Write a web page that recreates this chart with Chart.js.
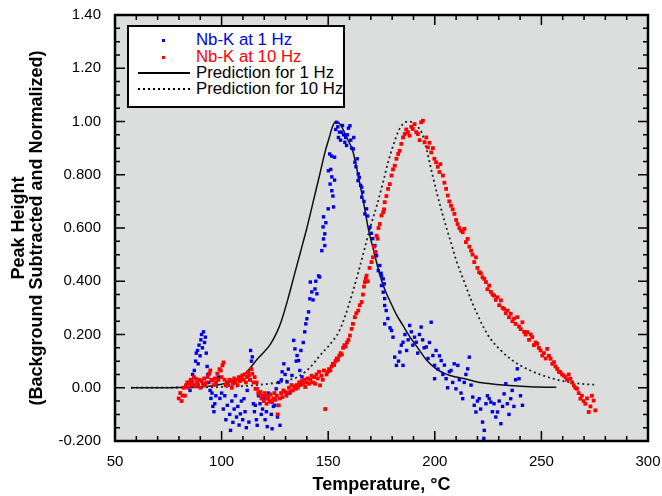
<!DOCTYPE html>
<html>
<head>
<meta charset="utf-8">
<title>Nb-K peak height vs temperature</title>
<script src="https://cdn.jsdelivr.net/npm/chart.js@4.4.0/dist/chart.umd.min.js"></script>
<style>
  body { margin: 0; background: #fff; }
  #wrap { position: relative; width: 662px; height: 496px; }
  #legendBox {
    position: absolute; left: 127px; top: 25px; width: 218px; height: 83px;
    box-sizing: border-box; border: 2px solid #000; background: #fff;
    font: 16.8px "Liberation Sans", Arial, sans-serif;
  }
  .row { position: absolute; left: 0; width: 100%; height: 18px; }
  .row span { position: absolute; left: 67px; top: 0; line-height: 18px; white-space: nowrap; }
  .dot { position: absolute; left: 33px; top: 8px; width: 3px; height: 3px; }
  .solid { position: absolute; left: 9px; top: 8px; width: 52px; height: 1.5px; background: #000; }
  .dotted { position: absolute; left: 9px; top: 8px; width: 52px; height: 1.5px;
    background: repeating-linear-gradient(to right, #000 0 2px, transparent 2px 5px); }
</style>
</head>
<body>
<div id="wrap">
  <canvas id="peakChart" width="662" height="496"></canvas>
  <div id="legendBox">
    <div class="row" style="top:4px"><div class="dot" style="background:#0000e8"></div><span style="color:#0000e8">Nb-K at 1 Hz</span></div>
    <div class="row" style="top:21px"><div class="dot" style="background:#ff0000"></div><span style="color:#ff0000">Nb-K at 10 Hz</span></div>
    <div class="row" style="top:37px"><div class="solid"></div><span>Prediction for 1 Hz</span></div>
    <div class="row" style="top:53px"><div class="dotted"></div><span>Prediction for 10 Hz</span></div>
  </div>
</div>
<script>
// axis ticks
const xTicks = [50, 100, 150, 200, 250, 300];
const yTickValues = [-0.2, 0, 0.2, 0.4, 0.6, 0.8, 1.0, 1.2, 1.4];
const yTickLabels = ['-0.200', '0.00', '0.200', '0.400', '0.600', '0.800', '1.00', '1.20', '1.40'];

// measured peak height, 1 Hz  [temperature °C, height]
const nbk1Hz = [
  [84.5,0.02],[85.2,-0.01],[85.8,0.03],[86.4,0.05],[86.9,0.01],[87.2,0.065],[87.8,0.10],[88.1,0.13],
  [88.7,0.14],[89.0,0.09],[89.4,0.16],[89.9,0.12],[90.3,0.18],[90.6,0.20],[91.0,0.15],[91.5,0.21],
  [92.0,0.17],[92.4,0.19],[92.8,0.13],[93.2,0.08],[93.6,0.05],[94.0,0.02],[94.6,-0.01],[95.0,-0.04],
  [95.5,-0.02],[95.9,-0.07],[96.4,-0.09],[96.8,-0.06],[97.3,-0.03],[98.5,0.04],[99.2,-0.04],[100.0,-0.02],
  [100.8,-0.08],[101.5,-0.03],[102.0,-0.12],[102.7,-0.066],[103.3,0.01],[103.8,-0.10],[104.2,-0.16],[104.8,-0.05],
  [105.3,-0.13],[105.9,-0.08],[106.5,-0.03],[107.0,-0.11],[107.6,-0.07],[108.2,-0.14],[108.8,-0.098],[109.3,-0.05],
  [109.9,-0.12],[110.5,-0.041],[111.0,-0.09],[111.6,-0.15],[112.0,-0.01],[112.8,-0.129],[113.2,0.03],[113.6,0.14],
  [114.0,0.10],[114.4,0.116],[114.9,-0.06],[115.4,-0.09],[115.8,-0.066],[116.3,-0.12],[116.7,-0.141],[117.3,-0.03],
  [118.0,-0.06],[118.6,-0.10],[119.2,-0.08],[119.8,-0.04],[120.4,-0.12],[121.0,-0.09],[121.4,-0.146],[122.0,-0.02],
  [122.8,-0.053],[123.3,-0.10],[123.7,-0.154],[124.3,-0.07],[125.0,-0.066],[125.6,-0.004],[126.2,-0.11],[126.8,0.02],
  [127.4,-0.141],[128.0,0.03],[128.4,0.06],[129.2,0.09],[129.8,0.05],[130.7,0.022],[131.3,0.07],[132.0,-0.02],
  [133.0,0.046],[133.8,0.178],[134.4,0.146],[135.0,0.10],[135.4,0.121],[136.1,0.102],[136.7,0.065],[137.2,0.14],
  [137.7,0.041],[138.3,0.17],[139.0,0.21],[139.5,0.24],[140.0,0.259],[140.8,0.285],[141.4,0.334],[141.6,0.397],
  [142.3,0.36],[142.9,0.33],[143.8,0.371],[144.2,0.40],[144.7,0.353],[145.5,0.42],[146.0,0.416],
  [147.0,0.515],[147.8,0.559],[148.4,0.578],[147.6,0.604],[148.9,0.62],[147.8,0.642],[148.4,0.534],[150.0,0.672],
  [152.5,0.679],[151.7,0.74],[152.2,0.72],[150.9,0.765],[151.7,0.792],[153.0,0.78],[150.1,0.815],[151.2,0.82],
  [150.7,0.878],[151.6,0.87],[153.0,0.866],
  [153.5,0.97],[154.0,0.997],[154.5,0.98],[154.8,0.94],[155.3,0.96],[155.8,0.93],[156.3,0.96],[156.7,0.985],
  [157.2,0.95],[157.8,0.922],[158.2,0.94],[158.6,0.91],[159.0,0.95],[159.5,0.975],[160.2,0.984],[160.6,0.93],
  [161.0,0.90],[161.8,0.897],[162.0,0.94],
  [162.5,0.847],[163.0,0.83],[163.6,0.86],[164.1,0.803],[164.0,0.778],[164.6,0.79],[165.2,0.76],[165.7,0.753],
  [166.2,0.735],[165.7,0.716],[166.8,0.70],[168.0,0.672],[167.2,0.653],[168.5,0.645],[169.6,0.603],[170.2,0.58],
  [170.9,0.56],[171.9,0.534],[172.3,0.51],[172.7,0.496],[174.2,0.459],[173.5,0.44],[174.8,0.43],[175.0,0.421],
  [175.8,0.409],[176.3,0.39],[175.0,0.384],[175.8,0.359],[176.5,0.335],[176.5,0.309],[177.2,0.29],[176.5,0.24],
  [178.0,0.26],[179.0,0.225],[179.7,0.215],[180.4,0.19],[181.2,0.115],[182.0,0.084],[183.0,0.10],[183.6,0.134],
  [184.3,0.16],[185.1,0.084],[185.1,0.171],[186.0,0.20],[186.8,0.14],[187.5,0.18],[188.2,0.234],[189.0,0.21],
  [189.7,0.16],[190.5,0.19],[191.3,0.171],[192.0,0.13],[192.8,0.20],[193.6,0.228],[194.3,0.18],[195.0,0.15],
  [196.0,0.153],[196.8,0.11],[197.5,0.17],[198.3,0.246],[199.1,0.121],[199.9,0.084],[199.9,0.034],[200.6,0.14],
  [201.5,0.07],[202.2,0.12],[203.0,0.102],[203.8,0.05],[204.5,0.085],[205.3,0.034],[206.0,0.00],[206.8,0.06],
  [207.6,0.065],[208.4,0.02],[209.1,0.09],[209.9,-0.004],[210.8,0.084],[211.5,0.03],[212.3,-0.02],[213.1,-0.041],
  [213.8,0.02],[214.6,0.05],[215.4,0.071],[216.2,0.115],[217.0,0.01],[217.8,-0.035],[218.5,-0.066],[219.3,-0.091],
  [220.0,-0.05],[220.8,-0.041],[221.5,-0.08],[222.4,-0.129],[223.2,-0.16],[223.0,-0.19],[224.0,-0.06],[224.7,-0.03],
  [225.5,-0.041],[226.3,-0.054],[227.0,-0.09],[227.8,-0.06],[228.6,-0.11],[229.4,-0.091],[230.2,-0.05],[231.0,-0.135],
  [231.8,-0.07],[232.5,-0.023],[233.3,0.015],[234.0,-0.06],[234.8,-0.10],[235.6,-0.041],[236.3,-0.01],[237.1,-0.07],
  [237.9,0.03],[238.7,0.071],[239.5,0.034],[240.2,-0.03],[241.1,-0.066]
];

// measured peak height, 10 Hz  [temperature °C, height]
const nbk10Hz = [
  [79.9,-0.04],[80.6,-0.02],[81.2,-0.05],[81.7,-0.029],[82.3,0.0],[82.8,-0.03],[83.3,0.009],[83.9,0.02],
  [84.4,0.0],[85.0,0.015],[85.5,0.03],[86.0,0.01],[86.4,0.021],[87.0,0.04],[87.4,0.005],[87.9,0.034],
  [88.5,0.02],[89.0,0.01],[89.6,0.03],[90.1,0.0],[90.7,0.025],[91.2,0.015],[91.8,0.035],[92.3,0.01],
  [92.9,0.02],[93.5,0.04],[94.2,0.053],[94.7,0.065],[95.2,0.03],[95.7,0.027],[96.3,0.01],[96.9,0.035],
  [97.4,0.02],[98.0,0.053],[98.5,0.03],[99.0,0.07],[99.6,0.065],[100.0,0.04],[100.4,0.084],[100.9,0.095],
  [101.4,0.03],[101.9,0.009],[102.5,0.02],[103.0,0.01],[103.6,0.03],[104.3,0.027],[104.8,0.0],[105.3,0.015],
  [105.9,0.035],[106.4,0.02],[107.0,0.03],[107.5,0.01],[108.1,0.04],[108.6,0.025],[109.2,0.035],[109.7,0.046],
  [110.3,0.03],[110.8,0.05],[111.4,0.02],[111.9,0.04],[112.5,0.06],[112.8,0.046],[113.4,0.03],[114.0,0.07],
  [114.4,0.053],[115.0,0.02],[115.5,0.04],[115.9,-0.004],[116.4,0.02],[116.7,-0.004],[117.2,-0.02],[117.5,-0.023],
  [118.2,-0.016],[118.7,-0.04],[119.3,-0.03],[119.8,-0.05],[120.2,-0.02],[120.6,-0.029],[121.1,-0.06],[121.4,-0.041],
  [122.0,-0.035],[122.5,-0.05],[123.0,-0.025],[123.7,-0.054],[124.2,-0.04],[124.8,-0.02],[125.3,-0.045],[125.9,-0.03],
  [126.3,-0.10],[126.8,-0.066],[127.4,-0.04],[127.9,-0.02],[128.5,-0.035],[129.0,-0.01],[129.9,-0.016],[130.4,-0.03],
  [131.0,-0.02],[131.6,0.0],[132.2,-0.015],[132.8,0.01],[133.4,-0.01],[134.0,0.005],[134.6,-0.004],[135.2,0.01],
  [135.8,0.0],[136.4,0.02],[137.0,0.01],[137.6,0.025],[138.2,0.015],[138.8,0.03],[139.2,0.003],[139.8,0.02],
  [140.4,0.035],[141.0,0.015],[141.6,0.03],[142.2,0.045],[142.8,0.02],[143.4,0.04],[143.9,0.015],[144.5,0.05],
  [145.1,0.035],[145.7,0.06],[146.2,0.009],[146.8,0.045],[147.4,0.03],[148.0,0.065],[148.6,-0.08],[149.2,0.05],
  [149.8,0.06],[150.4,0.07],[151.0,0.065],[151.6,0.08],[152.2,0.09],[152.8,0.085],[153.4,0.10],[154.0,0.11],
  [154.6,0.105],[155.2,0.12],[155.8,0.13],[156.4,0.125],[157.0,0.15],[157.6,0.16],[158.2,0.155],[158.8,0.17],
  [159.5,0.18],[160.2,0.196],[161.0,0.221],[161.6,0.24],[162.5,0.265],[163.2,0.28],[164.1,0.29],[164.8,0.31],
  [165.7,0.322],[166.3,0.35],[166.8,0.38],[167.2,0.397],[167.6,0.41],[168.0,0.421],[168.6,0.40],[169.4,0.45],
  [170.3,0.472],[171.0,0.49],[171.9,0.509],[171.5,0.53],[172.7,0.571],[173.2,0.56],[173.6,0.60],[174.2,0.615],
  [175.0,0.647],[175.8,0.659],[176.2,0.67],[176.5,0.697],[177.3,0.72],[178.1,0.747],[178.9,0.765],[179.7,0.797],
  [180.4,0.82],[181.2,0.834],[182.0,0.86],[182.8,0.878],[183.5,0.89],[184.3,0.916],[185.1,0.94],[185.9,0.953],
  [186.6,0.97],[187.4,0.96],[188.2,0.947],[189.0,0.98],[189.7,0.972],[190.5,0.99],[191.3,0.96],[192.1,0.953],
  [192.9,0.93],[193.6,0.997],[194.4,1.003],[195.2,0.922],[196.0,0.94],[196.8,0.903],[197.5,0.92],[198.3,0.884],
  [199.1,0.90],[199.8,0.86],[200.6,0.847],[201.4,0.83],[202.2,0.81],[202.6,0.84],[203.8,0.797],[204.5,0.77],
  [205.3,0.747],[206.1,0.722],[206.8,0.70],[207.6,0.684],[208.4,0.67],[209.2,0.653],[210.0,0.63],[210.7,0.615],
  [211.5,0.60],[212.3,0.59],[213.1,0.584],[213.9,0.597],[214.6,0.547],[215.4,0.559],[216.2,0.53],[217.0,0.515],
  [217.7,0.50],[218.5,0.472],[219.3,0.49],[220.0,0.45],[220.8,0.434],[221.6,0.43],[222.4,0.415],[223.2,0.409],
  [224.0,0.397],[224.7,0.37],[225.5,0.384],[226.3,0.36],[227.1,0.35],[227.8,0.346],[228.6,0.33],[229.4,0.34],
  [230.2,0.31],[231.0,0.328],[231.8,0.30],[232.5,0.296],[233.3,0.28],[234.1,0.29],[234.8,0.265],[235.6,0.278],
  [236.4,0.25],[237.2,0.26],[237.9,0.24],[238.7,0.265],[239.5,0.23],[240.3,0.22],[241.1,0.246],[241.9,0.21],
  [242.6,0.20],[243.4,0.209],[244.2,0.18],[245.0,0.20],[245.7,0.19],[246.5,0.16],[247.3,0.17],[248.0,0.165],
  [248.8,0.15],[249.6,0.14],[250.4,0.121],[251.2,0.13],[252.0,0.11],[252.7,0.146],[253.5,0.12],[254.3,0.109],
  [255.1,0.09],[255.9,0.096],[256.6,0.08],[257.4,0.071],[258.2,0.06],[258.9,0.059],[259.7,0.05],[260.5,0.046],
  [261.3,0.04],[262.0,0.03],[262.8,0.05],[263.6,0.034],[264.4,0.02],[265.2,0.009],[265.9,0.0],[266.7,-0.004],
  [267.5,-0.02],[268.3,-0.041],[269.0,-0.03],[269.8,-0.05],[270.6,-0.06],[271.4,-0.04],[272.2,-0.091],[273.0,-0.07],
  [273.7,-0.03],[274.5,-0.048],[275.3,-0.085]
];

// model predictions
const pred1Hz = [
  [57.5,0],[70,0],[80,0.001],[90,0.004],[95,0.007],[100,0.013],[105,0.024],[108,0.034],[111,0.052],[114,0.08],
  [117,0.11],[120,0.135],[123,0.165],[126,0.21],[128,0.25],[131,0.33],[134,0.42],[137,0.51],[140,0.6],[143,0.7],
  [146,0.8],[148.5,0.885],[150.5,0.94],[152,0.98],[153.5,1.0],[155,0.995],[157,0.97],[159,0.935],[161.5,0.89],
  [164,0.8],[166.5,0.7],[169,0.59],[171.5,0.51],[174,0.43],[176.5,0.37],[179,0.325],[182,0.275],[185,0.235],
  [188,0.195],[192,0.15],[196,0.105],[200,0.075],[205,0.052],[210,0.04],[215,0.032],[220,0.022],[226,0.015],
  [232,0.01],[240,0.006],[248,0.003],[257,0.002]
];
const pred10Hz = [
  [57.5,0],[80,0.001],[100,0.003],[110,0.006],[115,0.009],[120,0.013],[125,0.018],[128,0.022],[132,0.03],
  [136,0.042],[140,0.065],[143,0.09],[146,0.12],[150,0.155],[153,0.185],[155,0.21],[158,0.27],[161,0.346],
  [164,0.43],[167,0.52],[170,0.61],[173,0.69],[176,0.78],[178,0.845],[180.5,0.91],[183,0.965],[185,0.99],
  [187.4,1.0],[190,0.995],[192,0.98],[194,0.955],[196,0.9],[198.3,0.82],[201,0.73],[203,0.67],[205.5,0.6],
  [207.6,0.545],[210,0.48],[213.7,0.4],[217,0.33],[220,0.275],[223,0.225],[226,0.185],[231,0.14],[236,0.105],
  [240,0.084],[245,0.064],[250,0.048],[256,0.033],[262,0.022],[270,0.014],[276,0.011]
];

const toPoints = (rows) => rows.map(([x, y]) => ({ x, y }));

// gray plot area, frame and inward tick marks on all four sides
const plotFrame = {
  id: 'plotFrame',
  beforeDatasetsDraw(chart) {
    const { ctx, chartArea: a } = chart;
    ctx.save();
    ctx.fillStyle = '#dcdddd';
    ctx.fillRect(a.left, a.top, a.right - a.left, a.bottom - a.top);
    ctx.restore();
  },
  afterDraw(chart) {
    const { ctx, chartArea: a, scales: { x, y } } = chart;
    ctx.save();
    ctx.strokeStyle = '#000';
    ctx.lineWidth = 1.5;
    ctx.beginPath();
    for (let t = 50; t <= 300; t += 10) {
      const px = x.getPixelForValue(t);
      const len = t % 50 === 0 ? 10 : 5;
      ctx.moveTo(px, a.bottom); ctx.lineTo(px, a.bottom - len);
      ctx.moveTo(px, a.top); ctx.lineTo(px, a.top + len);
    }
    for (let i = 0; i <= 32; i++) {
      const py = y.getPixelForValue(-0.2 + i * 0.05);
      const len = i % 4 === 0 ? 10 : 5;
      ctx.moveTo(a.left, py); ctx.lineTo(a.left + len, py);
      ctx.moveTo(a.right, py); ctx.lineTo(a.right - len, py);
    }
    ctx.stroke();
    ctx.lineWidth = 2.5;
    ctx.strokeRect(a.left, a.top, a.right - a.left, a.bottom - a.top);
    ctx.restore();
  }
};

// keep the plot box where the original has it: no extra room for edge labels
const noEdgePadding = (s) => {
  s.paddingLeft = 0; s.paddingRight = 0; s.paddingTop = 0; s.paddingBottom = 0;
};

Chart.defaults.font.family = '"Liberation Sans", Arial, sans-serif';
Chart.defaults.color = '#000';

const ctx = document.getElementById('peakChart').getContext('2d');
new Chart(ctx, {
  type: 'scatter',
  data: {
    datasets: [
      {
        label: 'Nb-K at 10 Hz',
        data: toPoints(nbk10Hz),
        pointStyle: 'rect',
        pointRadius: 2.7,
        borderWidth: 0,
        backgroundColor: '#ff0000',
        order: 1
      },
      {
        label: 'Nb-K at 1 Hz',
        data: toPoints(nbk1Hz),
        pointStyle: 'rect',
        pointRadius: 2.4,
        borderWidth: 0,
        backgroundColor: '#0000e8',
        order: 2
      },
      {
        label: 'Prediction for 1 Hz',
        data: toPoints(pred1Hz),
        showLine: true,
        pointRadius: 0,
        borderColor: '#111',
        borderWidth: 1.5,
        cubicInterpolationMode: 'monotone',
        order: 3
      },
      {
        label: 'Prediction for 10 Hz',
        data: toPoints(pred10Hz),
        showLine: true,
        pointRadius: 0,
        borderColor: '#222',
        borderWidth: 1.8,
        borderDash: [2, 3],
        cubicInterpolationMode: 'monotone',
        order: 4
      }
    ]
  },
  options: {
    responsive: false,
    animation: false,
    layout: { padding: { top: 15, right: 14, left: 0, bottom: 0 } },
    plugins: {
      legend: { display: false },
      tooltip: { enabled: false }
    },
    scales: {
      x: {
        type: 'linear',
        min: 50,
        max: 300,
        afterFit: (s) => { s.height = 55; noEdgePadding(s); },
        afterBuildTicks: (s) => { s.ticks = xTicks.map((v) => ({ value: v })); },
        grid: { display: false, drawTicks: false },
        border: { display: false },
        ticks: { padding: 12, font: { size: 15 } },
        title: {
          display: true,
          text: 'Temperature, °C',
          font: { size: 18, weight: 'bold' },
          padding: { top: 0, bottom: 0 }
        }
      },
      y: {
        type: 'linear',
        min: -0.2,
        max: 1.4,
        afterFit: (s) => { s.width = 115; noEdgePadding(s); },
        afterBuildTicks: (s) => { s.ticks = yTickValues.map((v) => ({ value: v })); },
        grid: { display: false, drawTicks: false },
        border: { display: false },
        ticks: {
          padding: 14,
          font: { size: 15 },
          callback: (value) => {
            const i = yTickValues.findIndex((v) => Math.abs(v - value) < 1e-6);
            return i >= 0 ? yTickLabels[i] : '';
          }
        },
        title: {
          display: true,
          text: ['Peak Height', '(Background Subtracted and Normalized)'],
          font: { size: 18, weight: 'bold', lineHeight: 1.0 },
          padding: { top: 10, bottom: 0 }
        }
      }
    }
  },
  plugins: [plotFrame]
});
</script>
</body>
</html>
